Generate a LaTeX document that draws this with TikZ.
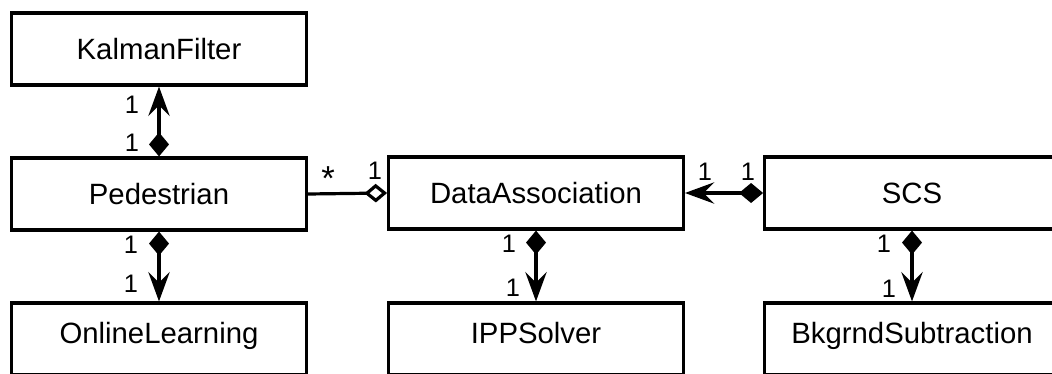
\documentclass[tikz,border=0pt]{standalone}
\usepackage{fontspec}
\setmainfont{Liberation Sans}
\usetikzlibrary{arrows.meta,positioning}

\begin{document}
\begin{tikzpicture}[x=0.75pt,y=-0.75pt,
  cls/.style={draw,line width=2.4pt,minimum width=221pt,minimum height=54pt,text height=15.5pt,text depth=0pt,font=\fontsize{22}{26}\selectfont},
  low/.style={text height=15.5pt,text depth=9pt},
  mult/.style={inner sep=0pt,font=\fontsize{19}{22}\selectfont},
  comp/.style={line width=2.4pt,{Diamond[length=18pt,width=15pt]}-{Stealth[length=22pt,width=16pt,inset=8pt]}},
  aggr/.style={line width=2.4pt,-{Diamond[open,length=17pt,width=14pt]}}]
  \useasboundingbox (0,0) rectangle (1052,374);
  \clip (0,0) rectangle (1052,374);
  % tridy
  \foreach \n/\t/\x/\y in {kal/KalmanFilter/159/49,ped/Pedestrian/159/194,
    data/DataAssociation/536/193,scs/SCS/912/193}
    {\node[cls] (\n) at (\x,\y) {\t};}
  \foreach \n/\t/\x in {onl/OnlineLearning/159,ipp/IPPSolver/536,bkg/BkgrndSubtraction/912}
    {\node[cls,low] (\n) at (\x,339) {\t};}
  % kompozice
  \draw[comp] (ped.north)--(kal.south);
  \draw[comp] (ped.south)--(onl.north);
  \draw[comp] (data.south)--(ipp.north);
  \draw[comp] (scs.south)--(bkg.north);
  \draw[comp] (scs.west)--(data.east);
  % agregace
  \draw[aggr] (ped.east)--(data.west);
  % nasobnosti
  \foreach \n/\x/\y in {a/132/105,b/132/143,c/131/245,d/131/284,e/509/244,f/513/288,
    g/884/244,h/889/289,i/375/171,j/705/172,k/748/172}
    {\node[mult] (m\n) at (\x,\y) {1};}
  \node[mult,font=\fontsize{26}{29}\selectfont] (mstar) at (328,179) {*};
\end{tikzpicture}
\end{document}
